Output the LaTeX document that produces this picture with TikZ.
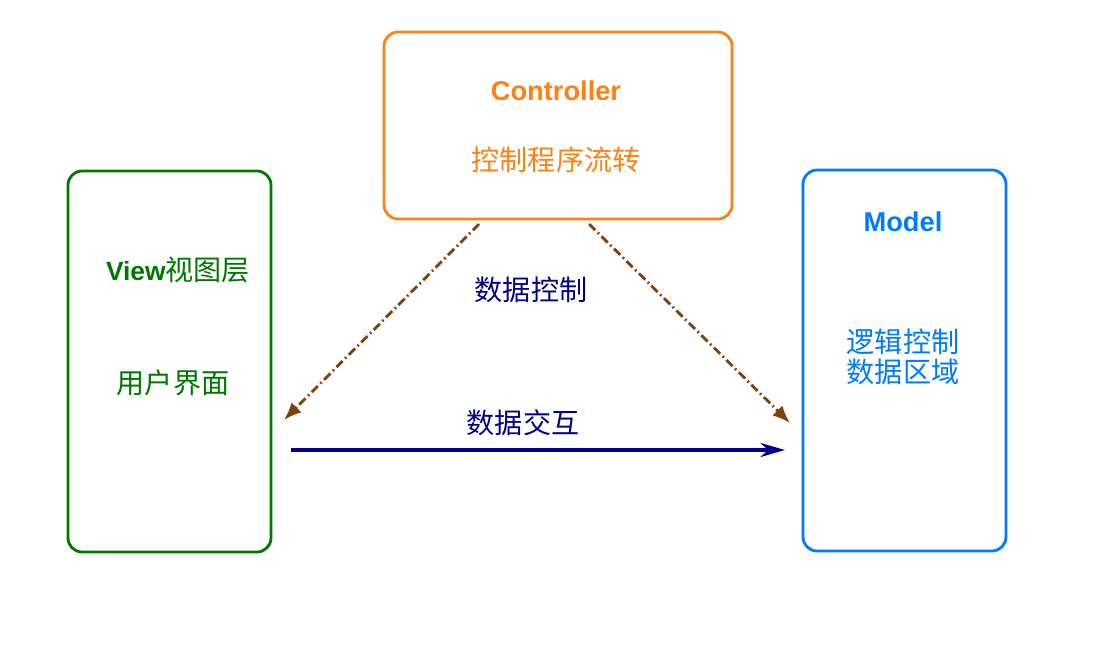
\documentclass[tikz,border=0pt]{standalone}
\usepackage{fontspec}
\setmainfont{Liberation Sans}
\newfontfamily\cjk{Noto Sans CJK SC}
\usetikzlibrary{arrows.meta}
\definecolor{corange}{RGB}{255,128,20}
\definecolor{cgreen}{RGB}{0,120,0}
\definecolor{cblue}{RGB}{0,122,255}
\definecolor{cnavy}{RGB}{0,0,140}
\definecolor{cbrown}{RGB}{130,65,10}
\tikzset{
  boxst/.style={draw, line width=1.6pt, rounded corners=8pt},
  lbl/.style={font=\cjk\fontsize{16}{18}\selectfont, align=center},
  ttl/.style={font=\bfseries\fontsize{15.5}{17}\selectfont},
  dashdot arrow/.style={cbrown, line width=1.6pt, dash pattern=on 5pt off 2pt on 1pt off 2pt, -{Latex[length=10pt,width=8pt]}},
}
\begin{document}
\begin{tikzpicture}[x=0.02cm,y=-0.02cm]
\useasboundingbox (0,0) rectangle (1100,659);
\draw[boxst, corange] (384,32) rectangle (732,219);
\draw[boxst, cgreen] (68,171) rectangle (271,552);
\draw[boxst, cblue] (803,170) rectangle (1006,551);
\node[ttl, text=corange] (ctl) at (556,91) {Controller};
\node[lbl, text=corange] (ctltxt) at (556,160) {控制程序流转};
\node[text=cgreen] (view) at (178,270) {{\bfseries\fontsize{15}{16}\selectfont View}{\cjk\fontsize{16}{18}\selectfont 视图层}};
\node[lbl, text=cgreen] (ui) at (173,383) {用户界面};
\node[ttl, text=cblue] (model) at (903,222) {Model};
\node[lbl, text=cblue, font=\cjk\fontsize{16}{17}\selectfont] (mtxt) at (903,357) {逻辑控制\\数据区域};
\node[lbl, text=cnavy] (dc) at (531,290) {数据控制};
\node[lbl, text=cnavy] (di) at (523,423) {数据交互};
\coordinate (a1) at (479,224); \coordinate (a1e) at (284,420);
\coordinate (a2) at (589,224); \coordinate (a2e) at (790,423);
\coordinate (b1) at (291,450); \coordinate (b1e) at (785,450);
\draw[dashdot arrow] (a1) -- (a1e);
\draw[dashdot arrow] (a2) -- (a2e);
\draw[cnavy, line width=1.8pt, -{Stealth[length=14pt,width=8pt]}] (b1) -- (b1e);
\end{tikzpicture}
\end{document}
